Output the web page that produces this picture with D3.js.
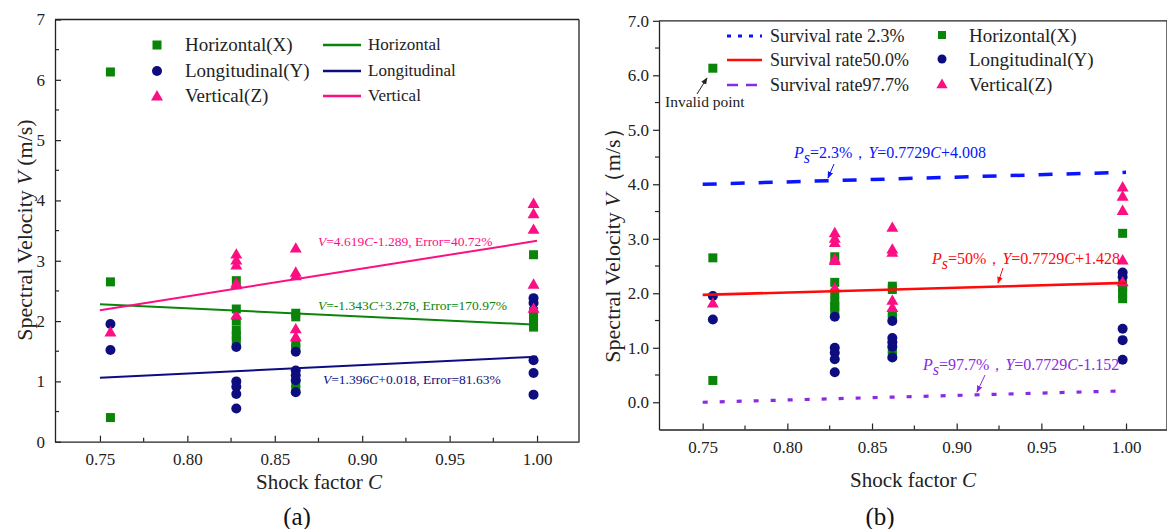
<!DOCTYPE html>
<html>
<head>
<meta charset="utf-8">
<script src="https://cdn.jsdelivr.net/npm/d3@7/dist/d3.min.js"></script>
<style>
  body { margin: 0; background: #fff; }
  svg { display: block; }
  svg text { font-family: "Liberation Serif", "Times New Roman", serif; }
</style>
</head>
<body>
<svg id="chart" width="1167" height="529"></svg>
<script>
// ---- datos ----
const shockCols = [0.756, 0.828, 0.862, 0.998];
const horizontalX = [[6.13, 2.65, 0.40], [2.67, 2.20, 2.00, 1.85, 1.76, 1.68], [2.13, 2.07, 1.62, 1.55, 0.97, 0.86], [3.10, 2.16, 2.09, 2.00, 1.90]];
const longitudinalY = [[1.95, 1.52], [1.57, 1.00, 0.91, 0.79, 0.55], [1.49, 1.18, 1.10, 1.02, 0.82], [2.38, 2.30, 1.35, 1.14, 0.78]];
const verticalZ = [[1.82], [3.11, 3.01, 2.93, 2.63, 2.60, 2.10], [3.21, 2.81, 2.75, 1.87, 1.74], [3.95, 3.78, 3.52, 2.61, 2.21]];

const fitC = [0.75, 1.0];
const fitHorizontal = [2.28, 1.94];
const fitLongitudinal = [1.06, 1.41];
const fitVertical = [2.18, 3.33];

const survival23 = [4.00, 4.22];
const survival50 = [1.97, 2.19];
const survival977 = [0.00, 0.21];

const xTicks = ['0.75', '0.80', '0.85', '0.90', '0.95', '1.00'];
const yTicksA = ['0', '1', '2', '3', '4', '5', '6', '7'];
const yTicksB = ['0.0', '1.0', '2.0', '3.0', '4.0', '5.0', '6.0', '7.0'];

const colors = { green: '#0a850a', navy: '#0d0d80', pink: '#fb0f82', blue: '#0a14ff', red: '#ff0a0a', violet: '#8a2be2' };
const serif = '"Liberation Serif", "Times New Roman", serif';

const svg = d3.select('#chart');

function toPoints(cols) {
    let pts = [];
    cols.forEach(function(vals, i) {
        vals.forEach(function(v) { pts.push({c: shockCols[i], v: v}); });
    });
    return pts;
}

// ---- marcadores ----
function drawMarkers(g, x, y) {
    g.append('g').selectAll('rect').data(toPoints(horizontalX)).enter().append('rect')
        .attr('x', d => x(d.c) - 4.5).attr('y', d => y(d.v) - 4.5)
        .attr('width', 9).attr('height', 9).attr('fill', colors.green);
    g.append('g').selectAll('circle').data(toPoints(longitudinalY)).enter().append('circle')
        .attr('cx', d => x(d.c)).attr('cy', d => y(d.v)).attr('r', 5).attr('fill', colors.navy);
    g.append('g').selectAll('path').data(toPoints(verticalZ)).enter().append('path')
        .attr('d', d3.symbol().type(d3.symbolTriangle).size(62))
        .attr('transform', d => `translate(${x(d.c)},${y(d.v) + 1})`).attr('fill', colors.pink);
}

function drawAxes(g, x, y, yDom, yLabels, opts) {
    const x0 = x.range()[0], x1 = x.range()[1];
    const yb = y(yDom[0]), yt = y(yDom[1]);
    // marco
    g.append('line').attr('x1', x0).attr('x2', x1).attr('y1', yt).attr('y2', yt).attr('stroke', '#222').attr('stroke-width', 1.3);
    g.append('line').attr('x1', x1).attr('x2', x1).attr('y1', yt).attr('y2', yb).attr('stroke', '#222').attr('stroke-width', 1.3);

    const axB = g.append('g').attr('transform', `translate(0,${yb})`)
        .call(d3.axisBottom(x).tickValues(xTicks.map(Number)).tickFormat((d, i) => xTicks[i]).tickSizeInner(-6).tickSizeOuter(0).tickPadding(11));
    const axL = g.append('g').attr('transform', `translate(${x0},0)`)
        .call(d3.axisLeft(y).tickValues(yLabels.map(Number)).tickFormat((d, i) => yLabels[i]).tickSizeInner(opts.yTickIn ? -6 : 6).tickSizeOuter(0).tickPadding(opts.yTickIn ? 10 : 4));
    [axB, axL].forEach(function(a) {
        a.attr('font-family', null).attr('font-size', null);
        a.select('.domain').attr('stroke', '#222').attr('stroke-width', 1.3);
        a.selectAll('.tick line').attr('stroke', '#222').attr('stroke-width', 1.2);
        a.selectAll('.tick text').style('font-family', serif).style('font-size', '17px').attr('fill', '#222');
    });
    // ticks menores
    const minorX = d3.range(0.775, 1.0, 0.05);
    g.append('g').selectAll('line').data(minorX).enter().append('line')
        .attr('x1', d => x(d)).attr('x2', d => x(d)).attr('y1', yb).attr('y2', yb - 4).attr('stroke', '#222').attr('stroke-width', 1.2);
    const minorY = d3.range(yDom[0] < 0 ? -0.5 : 0.5, yDom[1], 1).filter(d => d > yDom[0]);
    g.append('g').selectAll('line').data(minorY).enter().append('line')
        .attr('x1', x0).attr('x2', opts.yTickIn ? x0 + 4 : x0 - 4).attr('y1', d => y(d)).attr('y2', d => y(d)).attr('stroke', '#222').attr('stroke-width', 1.2);
}

// ================= (a) =================
const xA = d3.scaleLinear().domain([0.7243, 1.024]).range([55, 579]);
const yA = d3.scaleLinear().domain([0, 7]).range([441.7, 19.5]);
const gA = svg.append('g');

drawAxes(gA, xA, yA, [0, 7], yTicksA, {yTickIn: true});
drawMarkers(gA, xA, yA);

const lineA = d3.line().x(d => xA(d[0])).y(d => yA(d[1]));
[[fitHorizontal, colors.green], [fitLongitudinal, colors.navy], [fitVertical, colors.pink]].forEach(function(f) {
    gA.append('path').attr('d', lineA(fitC.map((c, i) => [c, f[0][i]])))
        .attr('stroke', f[1]).attr('stroke-width', 2).attr('fill', 'none');
});

// ecuaciones
function eqText(g, xp, yp, color, parts, size) {
    const t = g.append('text').attr('x', xp).attr('y', yp).attr('fill', color).attr('font-size', size);
    parts.forEach(function(p) {
        const s = t.append('tspan').text(p[0]);
        if (p[1] === 'i') s.attr('font-style', 'italic');
        if (p[1] === 'sub') s.attr('font-style', 'italic').attr('baseline-shift', '-30%');
    });
    return t;
}
eqText(gA, 318, 246, colors.pink, [['V', 'i'], ['=4.619'], ['C', 'i'], ['-1.289, Error=40.72%']], 13.5);
eqText(gA, 318, 310, colors.green, [['V', 'i'], ['=-1.343'], ['C', 'i'], ['+3.278, Error=170.97%']], 13.5);
eqText(gA, 323, 384, colors.navy, [['V', 'i'], ['=1.396'], ['C', 'i'], ['+0.018, Error=81.63%']], 13.5);

// leyenda (a)
const legA = gA.append('g');
const legNames = ['Horizontal(X)', 'Longitudinal(Y)', 'Vertical(Z)'];
const legCols = [colors.green, colors.navy, colors.pink];
const legRowsA = [45, 71, 96];
legNames.forEach(function(n, i) {
    const yy = legRowsA[i];
    if (i === 0) legA.append('rect').attr('x', 152.5).attr('y', yy - 4.5).attr('width', 9).attr('height', 9).attr('fill', legCols[i]);
    if (i === 1) legA.append('circle').attr('cx', 157).attr('cy', yy).attr('r', 5).attr('fill', legCols[i]);
    if (i === 2) legA.append('path').attr('d', d3.symbol().type(d3.symbolTriangle).size(62)).attr('transform', `translate(157,${yy + 1})`).attr('fill', legCols[i]);
    legA.append('text').attr('x', 185).attr('y', yy + 6).attr('font-size', 19).attr('fill', '#222').text(n);
    legA.append('line').attr('x1', 323).attr('x2', 361).attr('y1', yy).attr('y2', yy).attr('stroke', legCols[i]).attr('stroke-width', 2.5);
    legA.append('text').attr('x', 368).attr('y', yy + 5).attr('font-size', 17).attr('fill', '#222').text(['Horizontal', 'Longitudinal', 'Vertical'][i]);
});

// títulos (a)
const ttlA = gA.append('text').attr('transform', 'translate(32,230) rotate(-90)').attr('text-anchor', 'middle').attr('font-size', 22).attr('fill', '#222');
ttlA.append('tspan').text('Spectral Velocity ');
ttlA.append('tspan').attr('font-style', 'italic').text('V');
ttlA.append('tspan').text(' (m/s)');
const xtA = gA.append('text').attr('x', 319).attr('y', 489).attr('text-anchor', 'middle').attr('font-size', 21).attr('fill', '#222');
xtA.append('tspan').text('Shock factor ');
xtA.append('tspan').attr('font-style', 'italic').text('C');
gA.append('text').attr('x', 297).attr('y', 525).attr('text-anchor', 'middle').attr('font-size', 25).attr('fill', '#111').text('(a)');

// ================= (b) =================
const xB = d3.scaleLinear().domain([0.7242, 1.0242]).range([659, 1167]);
const yB = d3.scaleLinear().domain([-0.5, 7]).range([429.5, 20.8]);
const gB = svg.append('g');

drawAxes(gB, xB, yB, [-0.5, 7], yTicksB, {yTickIn: false});
drawMarkers(gB, xB, yB);

const lineB = d3.line().x(d => xB(d[0])).y(d => yB(d[1]));
[[survival23, colors.blue, 3.5, '14,14'], [survival50, colors.red, 2.6, null], [survival977, colors.violet, 3.2, '5,12']].forEach(function(f) {
    const p = gB.append('path').attr('d', lineB(fitC.map((c, i) => [c, f[0][i]])))
        .attr('stroke', f[1]).attr('stroke-width', f[2]).attr('fill', 'none');
    if (f[3]) p.attr('stroke-dasharray', f[3]);
});

// flechas
svg.append('defs').selectAll('marker').data([['arrBlue', colors.blue], ['arrRed', colors.red], ['arrViolet', colors.violet], ['arrBlack', '#222']])
    .enter().append('marker').attr('id', d => d[0]).attr('viewBox', '0 0 10 10').attr('refX', 9).attr('refY', 5)
    .attr('markerWidth', 7).attr('markerHeight', 7).attr('orient', 'auto')
    .append('path').attr('d', 'M0,1 L10,5 L0,9 z').attr('fill', d => d[1]);

function arrow(g, a, b, id, color) {
    g.append('line').attr('x1', a[0]).attr('y1', a[1]).attr('x2', b[0]).attr('y2', b[1])
        .attr('stroke', color).attr('stroke-width', 1).attr('marker-end', `url(#${id})`);
}

eqText(gB, 794, 158, colors.blue, [['P', 'i'], ['s', 'sub'], ['=2.3%，'], ['Y', 'i'], ['=0.7729'], ['C', 'i'], ['+4.008']], 16);
arrow(gB, [834, 164], [828, 178], 'arrBlue', colors.blue);
eqText(gB, 932, 264, colors.red, [['P', 'i'], ['s', 'sub'], ['=50%，'], ['Y', 'i'], ['=0.7729'], ['C', 'i'], ['+1.428']], 16);
arrow(gB, [1003, 268], [998, 283], 'arrRed', colors.red);
eqText(gB, 923, 370, colors.violet, [['P', 'i'], ['s', 'sub'], ['=97.7%，'], ['Y', 'i'], ['=0.7729'], ['C', 'i'], ['-1.152']], 16);
arrow(gB, [985, 375], [977, 392], 'arrViolet', colors.violet);

gB.append('text').attr('x', 665).attr('y', 107).attr('font-size', 15.5).attr('fill', '#222').text('Invalid point');
arrow(gB, [697, 94], [707, 78], 'arrBlack', '#222');

// leyenda (b)
const legB = gB.append('g');
const survNames = ['Survival rate 2.3%', 'Survival rate50.0%', 'Survival rate97.7%'];
const survStyle = [[colors.blue, 3, '4,7'], [colors.red, 2.6, null], [colors.violet, 2.6, '11,8']];
const legRowsB = [36, 60, 85];
survNames.forEach(function(n, i) {
    const yy = legRowsB[i];
    const l = legB.append('line').attr('x1', 727).attr('x2', 762).attr('y1', yy).attr('y2', yy)
        .attr('stroke', survStyle[i][0]).attr('stroke-width', survStyle[i][1]);
    if (survStyle[i][2]) l.attr('stroke-dasharray', survStyle[i][2]);
    legB.append('text').attr('x', 770).attr('y', yy + 6).attr('font-size', 18).attr('fill', '#222').text(n);
});
legNames.forEach(function(n, i) {
    const yy = legRowsB[i] - 1;
    if (i === 0) legB.append('rect').attr('x', 938).attr('y', yy - 4).attr('width', 8).attr('height', 8).attr('fill', legCols[i]);
    if (i === 1) legB.append('circle').attr('cx', 942).attr('cy', yy).attr('r', 4.5).attr('fill', legCols[i]);
    if (i === 2) legB.append('path').attr('d', d3.symbol().type(d3.symbolTriangle).size(55)).attr('transform', `translate(942,${yy + 1})`).attr('fill', legCols[i]);
    legB.append('text').attr('x', 969).attr('y', yy + 7).attr('font-size', 19).attr('fill', '#222').text(n);
});

// títulos (b)
const ttlB = gB.append('text').attr('transform', 'translate(620,240) rotate(-90)').attr('text-anchor', 'middle').attr('font-size', 22).attr('fill', '#222');
ttlB.append('tspan').text('Spectral Velocity ');
ttlB.append('tspan').attr('font-style', 'italic').text('V');
ttlB.append('tspan').text('（m/s）');
const xtB = gB.append('text').attr('x', 913).attr('y', 487).attr('text-anchor', 'middle').attr('font-size', 21).attr('fill', '#222');
xtB.append('tspan').text('Shock factor ');
xtB.append('tspan').attr('font-style', 'italic').text('C');
gB.append('text').attr('x', 880).attr('y', 525).attr('text-anchor', 'middle').attr('font-size', 25).attr('fill', '#111').text('(b)');
</script>
</body>
</html>
